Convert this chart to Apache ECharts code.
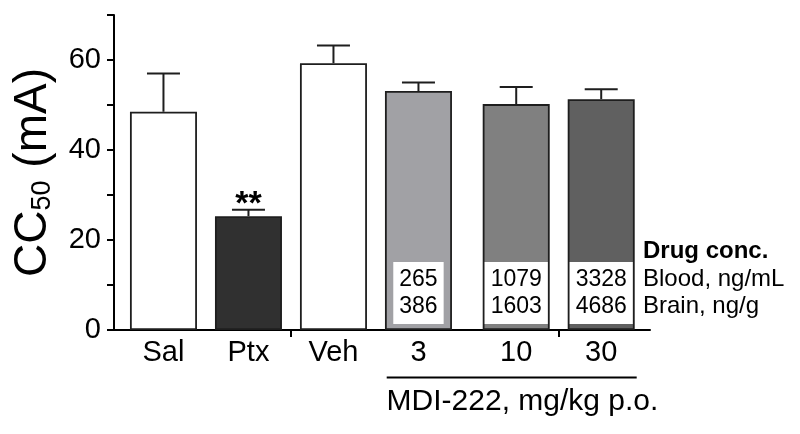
<!DOCTYPE html>
<html>
<head>
<meta charset="utf-8">
<script src="https://cdn.jsdelivr.net/npm/echarts@6/dist/echarts.min.js"></script>
<style>html,body{margin:0;padding:0;background:#fff;}#c{width:800px;height:434px;}</style>
</head>
<body>
<div id="c"></div>
<script>
// ---- data ----
const categories = ['Sal', 'Ptx', 'Veh', '3', '10', '30'];
const means = [48.5, 25.3, 59.3, 53.1, 50.2, 51.3];
const errUpper = [57.0, 26.7, 63.2, 55.0, 54.0, 53.5];
const significance = ['', '**', '', '', '', ''];
const bloodConc = [null, null, null, 265, 1079, 3328];
const brainConc = [null, null, null, 386, 1603, 4686];
const yTickValues = [0, 20, 40, 60];
const concLegend = ['Drug conc.', 'Blood, ng/mL', 'Brain, ng/g'];
const groupLabel = 'MDI-222, mg/kg p.o.';

// ---- layout (not data) ----
const slotX = [0, 1, 2, 3, 4.15, 5.15];
const separatorTicks = [1.5, 4.65];
const barColors = ['#ffffff', '#303030', '#ffffff', '#a1a1a5', '#808080', '#606060'];
const FONT = '"Liberation Sans", Arial, Helvetica, sans-serif';

const chart = echarts.init(document.getElementById('c'), null, {renderer: 'canvas'});

const barData = categories.map((c, i) => {
  const item = {value: [slotX[i], means[i]], itemStyle: {color: barColors[i]}};
  if (bloodConc[i] != null) {
    item.label = {show: true, formatter: bloodConc[i] + '\n' + brainConc[i]};
  }
  return item;
});
const errData = categories.map((c, i) => [slotX[i], means[i], errUpper[i]]);

chart.setOption({
  animation: false,
  backgroundColor: '#fff',
  textStyle: {fontFamily: FONT},
  grid: {left: 114, right: 150, top: 15, bottom: 104, containLabel: false},
  xAxis: {
    type: 'value', min: -0.582, max: 5.724,
    splitLine: {show: false},
    axisLine: {show: true, onZero: false, lineStyle: {color: '#000', width: 2}},
    axisTick: {show: true, customValues: separatorTicks, length: 7, inside: false, lineStyle: {color: '#000', width: 2}},
    axisLabel: {
      show: true, customValues: slotX, margin: 8,
      fontSize: 29, color: '#000', fontFamily: FONT,
      formatter: v => { const k = slotX.findIndex(s => Math.abs(s - v) < 1e-6); return k >= 0 ? categories[k] : ''; }
    }
  },
  yAxis: {
    type: 'value', min: 0, max: 70, interval: 10,
    splitLine: {show: false},
    axisLine: {show: true, onZero: false, lineStyle: {color: '#000', width: 2}},
    axisTick: {show: true, length: 7, inside: false, lineStyle: {color: '#000', width: 2}},
    axisLabel: {
      margin: 13, fontSize: 29, color: '#000', fontFamily: FONT,
      formatter: v => yTickValues.indexOf(v) >= 0 ? String(v) : ''
    },
    name: '{a|CC}{s|50}{a| (mA)}',
    nameLocation: 'middle', nameRotate: 90, nameGap: 58,
    nameTextStyle: {
      rich: {
        a: {fontSize: 46, fontFamily: FONT, color: '#000', lineHeight: 52, verticalAlign: 'bottom'},
        s: {fontSize: 27, fontFamily: FONT, color: '#000', lineHeight: 30, verticalAlign: 'bottom'}
      }
    }
  },
  series: [
    {
      type: 'bar', barWidth: 67, data: barData, z: 2,
      itemStyle: {borderColor: '#1e1e1e', borderWidth: 1.8},
      label: {
        show: false, position: 'insideBottom', distance: 6,
        backgroundColor: '#fff', padding: [4, 6], lineHeight: 27,
        fontSize: 23, color: '#000', fontFamily: FONT
      }
    },
    {
      type: 'custom', z: 3, data: errData,
      renderItem: function (params, api) {
        const x = api.value(0), m = api.value(1), u = api.value(2);
        const p0 = api.coord([x, m]);
        const p1 = api.coord([x, u]);
        const half = 16.5;
        const st = {stroke: '#1e1e1e', lineWidth: 2};
        const children = [
          {type: 'line', shape: {x1: p0[0], y1: p0[1], x2: p1[0], y2: p1[1]}, style: st},
          {type: 'line', shape: {x1: p1[0] - half, y1: p1[1], x2: p1[0] + half, y2: p1[1]}, style: st}
        ];
        const sig = significance[params.dataIndex];
        if (sig) {
          children.push({type: 'text', style: {text: sig, x: p1[0], y: p1[1] - 5, textAlign: 'center', textVerticalAlign: 'middle', font: 'bold 34px ' + FONT, fill: '#000'}});
        }
        return {type: 'group', children: children};
      }
    }
  ],
  graphic: [
    {type: 'text', x: 643, y: 251.7, style: {text: concLegend[0], font: 'bold 24px ' + FONT, fill: '#000', textVerticalAlign: 'middle'}},
    {type: 'text', x: 643, y: 279.3, style: {text: concLegend[1], font: '24px ' + FONT, fill: '#000', textVerticalAlign: 'middle'}},
    {type: 'text', x: 643, y: 306, style: {text: concLegend[2], font: '24px ' + FONT, fill: '#000', textVerticalAlign: 'middle'}},
    {type: 'line', shape: {x1: 386.7, y1: 377.5, x2: 636.7, y2: 377.5}, style: {stroke: '#000', lineWidth: 2}},
    {type: 'text', x: 522.5, y: 402, style: {text: groupLabel, font: '30px ' + FONT, fill: '#000', textAlign: 'center', textVerticalAlign: 'middle'}}
  ]
});
</script>
</body>
</html>
